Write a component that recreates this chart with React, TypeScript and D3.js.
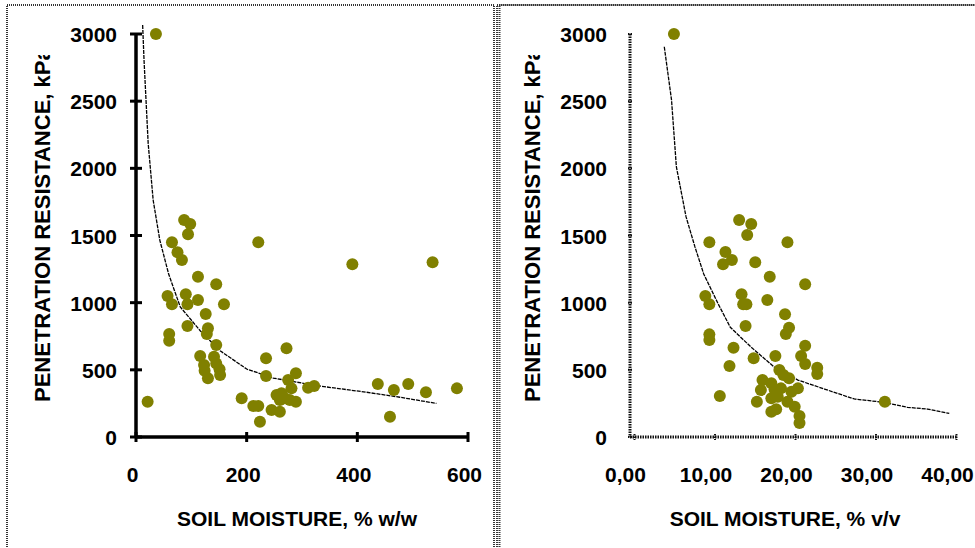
import React from "react";
import * as d3 from "d3";

// ---- data ----
const yTicks = [0, 500, 1000, 1500, 2000, 2500, 3000];
const leftXTicks = [0, 200, 400, 600];
const rightXTicks = [0, 10, 20, 30, 40];
const rightXTickLabels = ["0,00", "10,00", "20,00", "30,00", "40,00"];

// left panel: soil moisture % w/w vs penetration resistance kPa
const leftX = [36, 87, 98, 94, 65, 75, 83, 221, 391, 536,
  112, 145, 57, 90, 112, 65, 93, 159, 126,
  93, 130, 128, 60, 60, 145, 116, 141, 123, 145, 151, 124, 152, 130,
  21,
  272, 235, 235, 289, 275, 281, 311, 322, 254, 263, 269, 278, 289, 260, 191, 212, 221, 245, 260, 224,
  437, 466, 492, 524, 580, 459];
const leftY = [3000, 1615, 1586, 1509, 1449, 1375, 1318, 1449, 1286, 1300,
  1193, 1137, 1050, 1062, 1020, 988, 988, 988, 916,
  826, 809, 767, 767, 717, 685, 603, 598, 536, 548, 504, 494, 462, 437,
  263,
  660, 586, 454, 474, 424, 362, 367, 380, 313, 325, 288, 275, 263, 275, 288, 231, 231, 201, 188, 114,
  394, 350, 394, 333, 362, 151];

// left trend line
const leftFitX = [12, 14.5, 22, 31, 43, 59, 80, 116, 152, 200, 248, 327, 417, 477, 543];
const leftFitY = [3067, 2807, 2186, 1764, 1466, 1213, 968, 791, 642, 506, 439, 382, 333, 296, 250];

// right panel: soil moisture % v/v vs penetration resistance kPa
const rightX = [4.9, 13.0, 14.5, 14.0, 9.3, 19.0, 11.3, 12.1, 11.0, 15.0,
  16.8, 21.2, 8.8, 9.3, 13.3, 13.5, 13.9, 16.5, 18.7,
  19.2, 18.8, 13.8, 9.3, 9.3, 12.3, 11.8, 14.8, 17.5, 21.2, 20.7, 21.2, 22.7, 22.7,
  10.6, 15.2, 31.1,
  18.0, 18.5, 19.2, 15.9, 17.0, 15.7, 17.4, 18.2, 20.3, 19.5, 17.0, 17.8, 19.0, 19.9, 17.0, 17.6, 20.5, 20.5];
const rightY = [3000, 1615, 1586, 1504, 1449, 1449, 1378, 1318, 1286, 1300,
  1193, 1137, 1050, 988, 1062, 988, 988, 1020, 913,
  814, 767, 826, 764, 722, 665, 529, 586, 603, 680, 603, 543, 516, 469,
  305, 263, 263,
  499, 462, 437, 424, 400, 350, 355, 362, 362, 337, 288, 300, 263, 226, 188, 206, 156, 105];

// right trend line
const rightFitX = [3.7, 4.6, 5.2, 6.4, 7.5, 8.6, 10.4, 11.9, 14.5, 17.4, 20.3, 23.6, 27.3, 31.0, 33.9, 36.4, 39.1];
const rightFitY = [2905, 2509, 2012, 1640, 1417, 1213, 990, 817, 668, 519, 424, 357, 283, 258, 221, 208, 176];

const FONT = "'Liberation Sans', Arial, sans-serif";
const OLIVE = "#808000";

type PanelProps = {
  xs: number[]; ys: number[]; fx: number[]; fy: number[];
  xDomain: [number, number]; xRange: [number, number];
  xTicks: number[]; xLabels: string[]; xLabelDx: number;
  yAxisX: number; yTickRight: number; yLabelX: number;
  xTitle: string; xTitleX: number; dotted: boolean; id: string;
};

function Panel(p: PanelProps) {
  const x = d3.scaleLinear().domain(p.xDomain).range(p.xRange);
  const y = d3.scaleLinear().domain([0, 3000]).range([437, 34]);
  const line = d3.line<number>().x((_, i) => x(p.fx[i])).y((d) => y(d));
  const axisStroke = p.dotted
    ? { stroke: "#111", strokeWidth: 3, strokeDasharray: "1.5 1" }
    : { stroke: "#000", strokeWidth: 3.5 };
  const x0 = p.dotted ? p.yAxisX : x(0);
  return (
    <g>
      <clipPath id={p.id}>
        <rect x={0} y={55} width={975} height={500} />
      </clipPath>
      {/* axes */}
      <line x1={x0} x2={x0} y1={y(3000)} y2={y(0)} {...axisStroke} />
      <line x1={x0} x2={p.xRange[1]} y1={y(0)} y2={y(0)} {...axisStroke} />
      {yTicks.map((t) => (
        <g key={"yt" + t}>
          <line x1={x0 - (p.dotted ? 2 : 6)} x2={x0 + (p.dotted ? 2 : 6)} y1={y(t)} y2={y(t)}
            {...axisStroke} strokeWidth={p.dotted ? 2 : 3} />
          <text x={p.yTickRight} y={y(t) + 8} textAnchor="end" fontFamily={FONT}
            fontWeight="bold" fontSize={21}>{t}</text>
        </g>
      ))}
      {p.xTicks.map((t, i) => (
        <g key={"xt" + t}>
          <line x1={x(t)} x2={x(t)} y1={y(0) - (p.dotted ? 3 : 5)} y2={y(0) + (p.dotted ? 3 : 5)}
            {...axisStroke} strokeWidth={p.dotted ? 2 : 3} />
          <text x={x(t) + p.xLabelDx} y={482} textAnchor="middle" fontFamily={FONT}
            fontWeight="bold" fontSize={21}>{p.xLabels[i]}</text>
        </g>
      ))}
      {/* titles */}
      <text x={p.xTitleX} y={526} textAnchor="middle" fontFamily={FONT} fontWeight="bold"
        fontSize={21}>{p.xTitle}</text>
      <g clipPath={`url(#${p.id})`}>
        <text transform={`translate(${p.yLabelX},402) rotate(-90)`} textAnchor="start"
          fontFamily={FONT} fontWeight="bold" fontSize={22}>PENETRATION RESISTANCE, kPa</text>
      </g>
      {/* trend line */}
      <path d={line(p.fy) || ""} fill="none" stroke="#000" strokeWidth={1.3} strokeDasharray="4 1" />
      {/* points */}
      {p.xs.map((v, i) => (
        <circle key={i} cx={x(v)} cy={y(p.ys[i])} r={6} fill={OLIVE} />
      ))}
    </g>
  );
}

export default function App() {
  const frame = { fill: "none", stroke: "#333", strokeWidth: 2, strokeDasharray: "1 1" };
  return (
    <svg width={975} height={548} style={{ position: "absolute", left: 0, top: 0, background: "#fff" }}>
      <rect x={0} y={0} width={975} height={548} fill="#fff" />
      <rect x={7} y={5} width={487} height={560} {...frame} />
      <rect x={497} y={5} width={490} height={560} {...frame} />
      <rect x={499.5} y={5} width={490} height={560} {...frame} />
      <Panel id="clipL" xs={leftX} ys={leftY} fx={leftFitX} fy={leftFitY}
        xDomain={[0, 600]} xRange={[136, 468]} xTicks={leftXTicks}
        xLabels={leftXTicks.map(String)} xLabelDx={-3.5}
        yAxisX={136} yTickRight={117} yLabelX={50}
        xTitle="SOIL MOISTURE, % w/w" xTitleX={297} dotted={false} />
      <Panel id="clipR" xs={rightX} ys={rightY} fx={rightFitX} fy={rightFitY}
        xDomain={[0, 40]} xRange={[634.5, 956.5]} xTicks={rightXTicks}
        xLabels={rightXTickLabels} xLabelDx={-9}
        yAxisX={630} yTickRight={607} yLabelX={540}
        xTitle="SOIL MOISTURE, % v/v" xTitleX={785} dotted={true} />
    </svg>
  );
}
